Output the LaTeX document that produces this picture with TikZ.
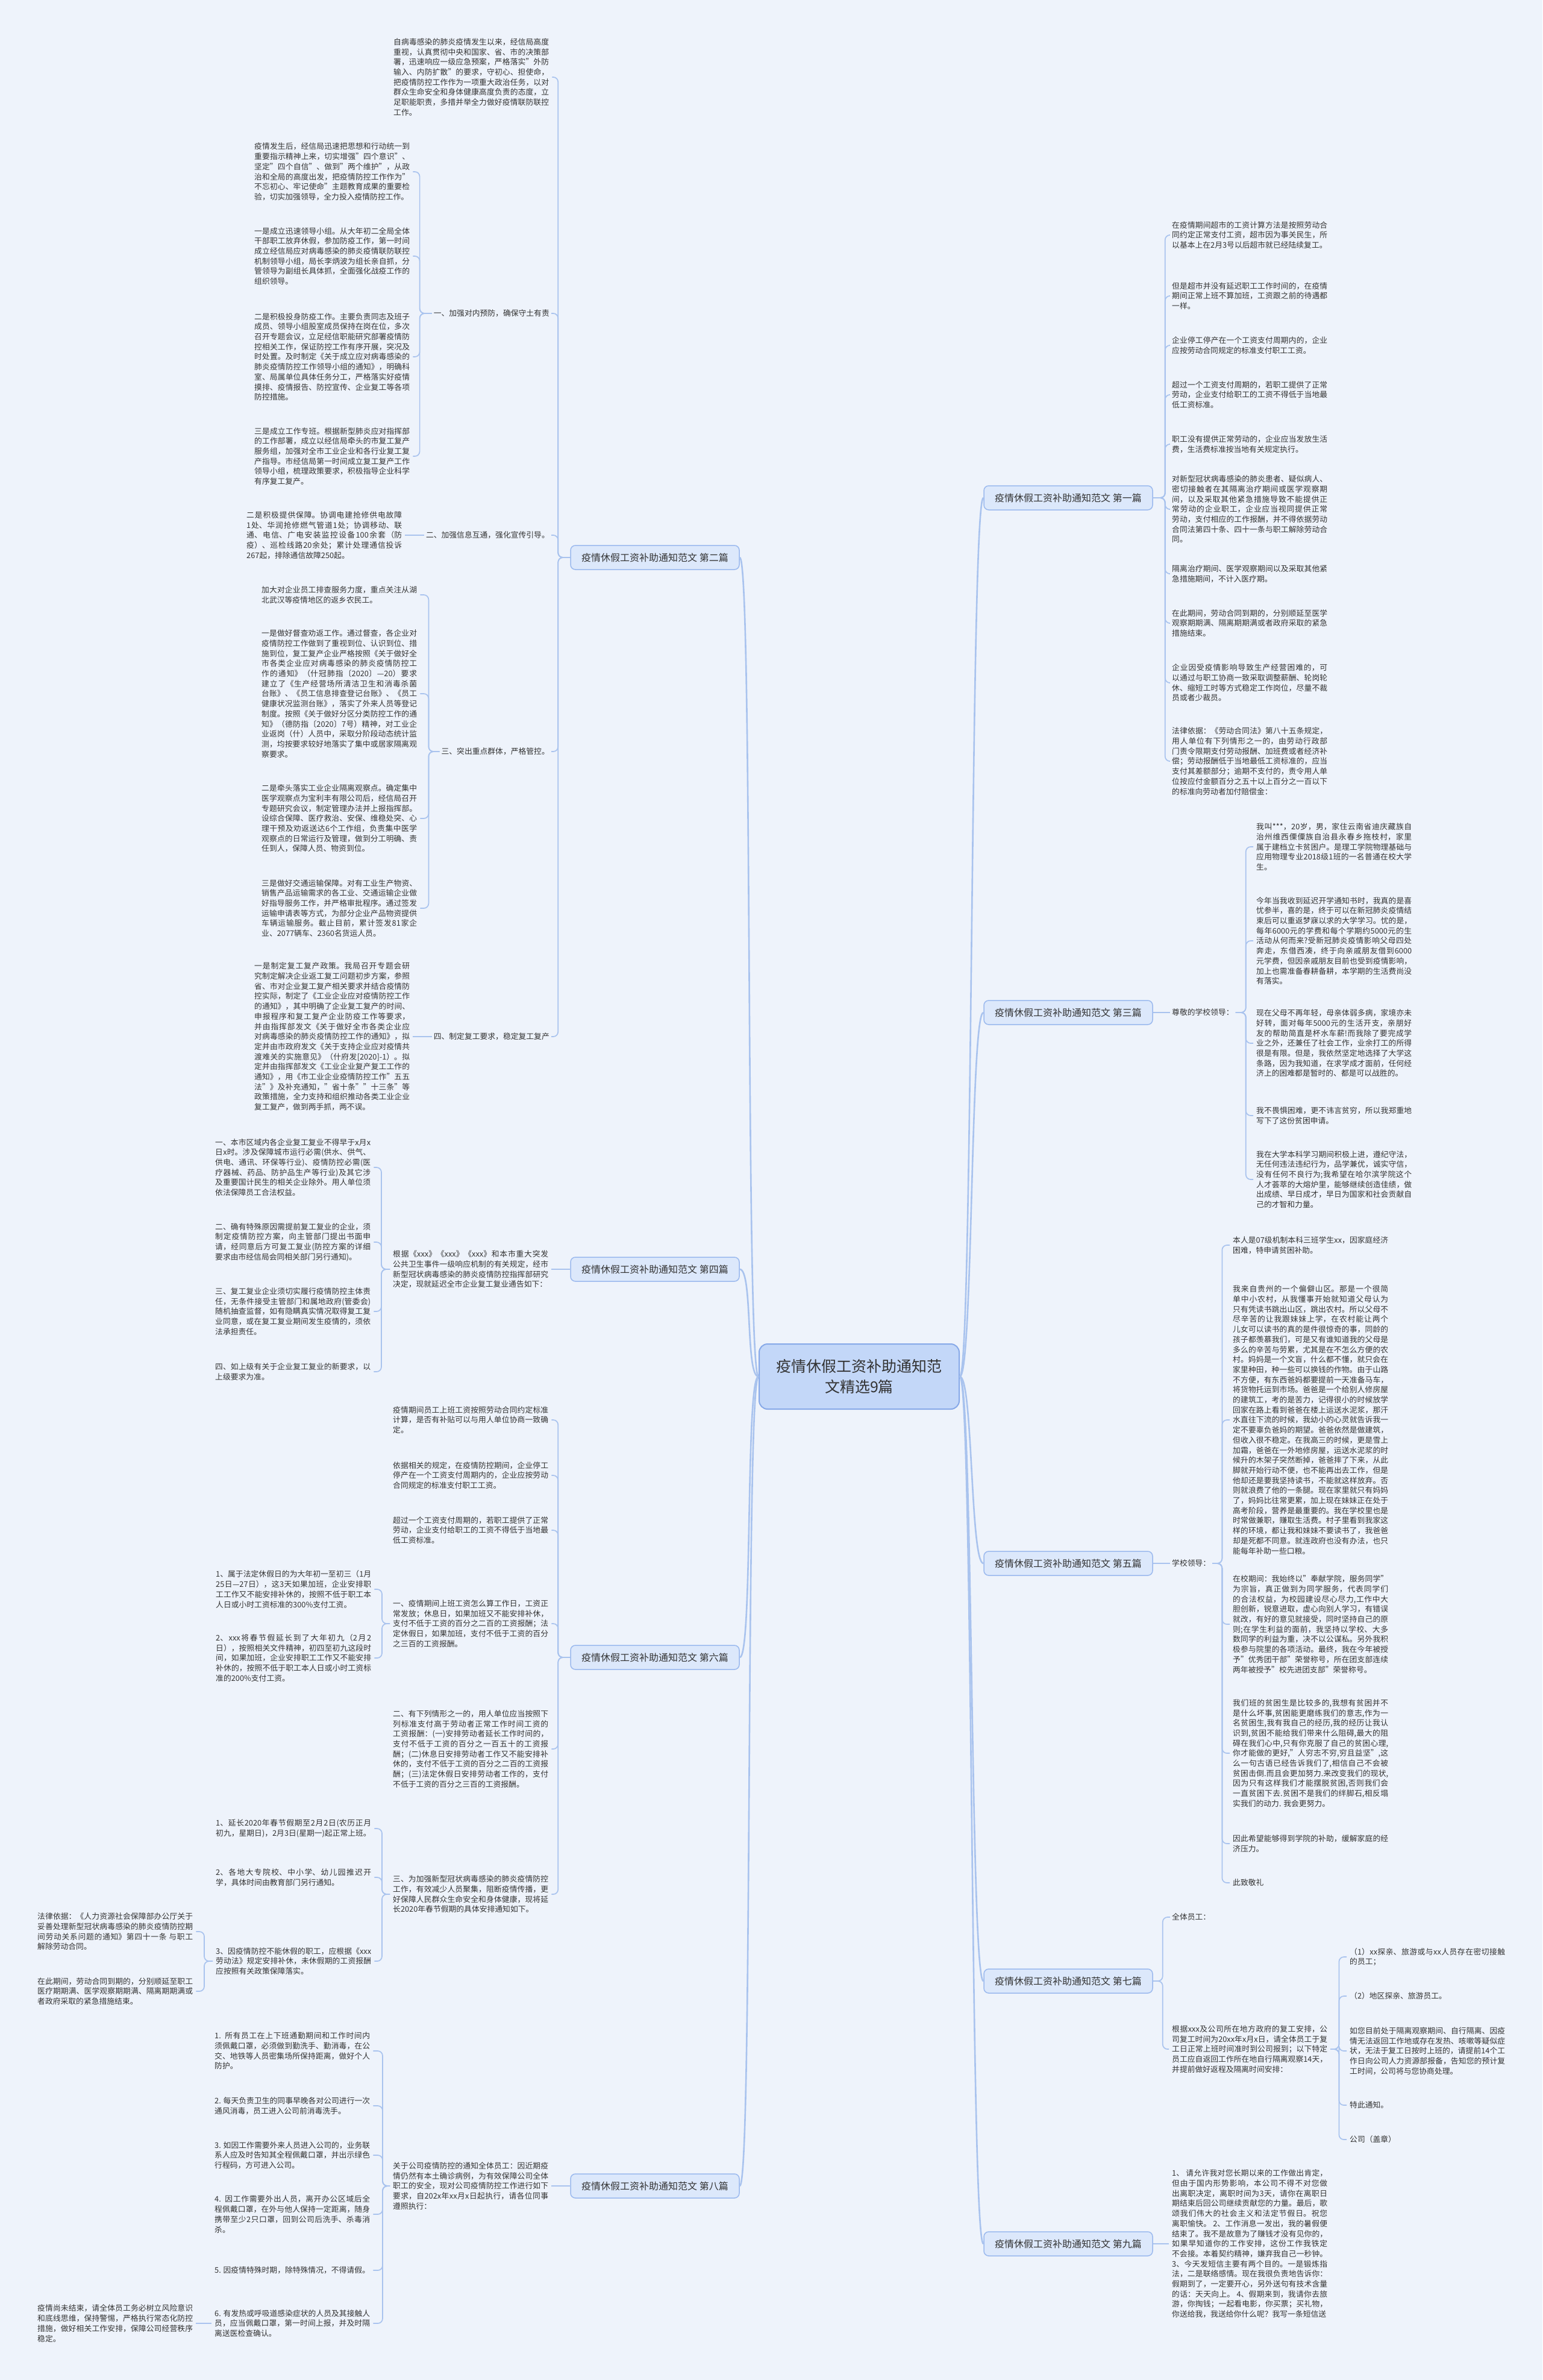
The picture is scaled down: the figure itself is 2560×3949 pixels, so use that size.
\documentclass[tikz,border=0pt]{standalone}
\usepackage{fontspec}
\setmainfont{Noto Sans CJK SC}
\XeTeXlinebreaklocale "zh"
\XeTeXlinebreakskip=0pt plus 1pt
\definecolor{bgc}{HTML}{EEF3FB}
\definecolor{lnc}{HTML}{A9C3EE}
\definecolor{txc}{HTML}{333333}
\definecolor{brfill}{HTML}{DCE8FB}
\definecolor{brdraw}{HTML}{9BB9EE}
\definecolor{rtfill}{HTML}{C3D7F8}
\definecolor{rtdraw}{HTML}{87A9E8}
\newcommand\bfs{\fontsize{12.8pt}{16.7pt}\selectfont}
\newcommand\lcon[3]{\draw[conn] (#1.west) -- ++(-#3,0) |- (#2.east);}
\newcommand\rcon[3]{\draw[conn] (#1.east) -- ++(#3,0) |- (#2.west);}
\tikzset{
  tb/.style={anchor=west, text width=258pt, align=justify, inner xsep=5pt, inner ysep=1pt, font=\bfs, text=txc},
  lbl/.style={inner xsep=3pt, inner ysep=1pt, font=\bfs, text=txc},
  lbll/.style={lbl, anchor=east},
  lblr/.style={lbl, anchor=west},
  branch/.style={draw=brdraw, fill=brfill, rounded corners=8pt, line width=1.5pt, minimum width=280pt, minimum height=40pt, font=\fontsize{16pt}{20pt}\selectfont, text=txc, inner sep=0pt},
  rootn/.style={draw=rtdraw, fill=rtfill, rounded corners=14pt, line width=2pt, minimum width=332pt, minimum height=108pt, align=center, font=\fontsize{25pt}{34pt}\selectfont, text=txc},
  conn/.style={draw=lnc, line width=1.7pt, rounded corners=8pt},
  mconn/.style={draw=lnc, line width=2.6pt}
}
\begin{document}
\begin{tikzpicture}[x=1pt,y=-1pt]
\fill[bgc] (0,0) rectangle (2560,3949);
\useasboundingbox (0,0) rectangle (2560,3949);

% ---------------- root and branches
\node[rootn] (root) at (1426,2284) {疫情休假工资补助通知范\\文精选9篇};
\node[branch] (B1) at (1773,826) {疫情休假工资补助通知范文 第一篇};
\node[branch] (B2) at (1087,925) {疫情休假工资补助通知范文 第二篇};
\node[branch] (B3) at (1773,1680) {疫情休假工资补助通知范文 第三篇};
\node[branch] (B4) at (1087,2106) {疫情休假工资补助通知范文 第四篇};
\node[branch] (B5) at (1773,2594) {疫情休假工资补助通知范文 第五篇};
\node[branch] (B6) at (1087,2750) {疫情休假工资补助通知范文 第六篇};
\node[branch] (B7) at (1773,3287) {疫情休假工资补助通知范文 第七篇};
\node[branch] (B8) at (1087,3627) {疫情休假工资补助通知范文 第八篇};
\node[branch] (B9) at (1773,3723) {疫情休假工资补助通知范文 第九篇};
\foreach \b in {B2,B4,B6,B8}{\draw[mconn] (root.west) .. controls +(-22,0) and +(22,0) .. (\b.east);}
\foreach \b in {B1,B3,B5,B7,B9}{\draw[mconn] (root.east) .. controls +(22,0) and +(-22,0) .. (\b.west);}

% ---------------- 第二篇
\node[tb] (c2a) at (648,128) {自病毒感染的肺炎疫情发生以来，经信局高度重视，认真贯彻中央和国家、省、市的决策部署，迅速响应一级应急预案，严格落实"外防输入、内防扩散"的要求，守初心、担使命，把疫情防控工作作为一项重大政治任务，以对群众生命安全和身体健康高度负责的态度，立足职能职责，多措并举全力做好疫情联防联控工作。};
\node[lbll] (c2b) at (915,520) {一、加强对内预防，确保守土有责};
\node[lbll] (c2c) at (915,888) {二、加强信息互通，强化宣传引导。};
\node[lbll] (c2d) at (915,1247) {三、突出重点群体，严格管控。};
\node[lbll] (c2e) at (915,1720) {四、制定复工要求，稳定复工复产};
\node[tb] (g1) at (417,285) {疫情发生后，经信局迅速把思想和行动统一到重要指示精神上来，切实增强"四个意识"、坚定"四个自信"、做到"两个维护"，从政治和全局的高度出发，把疫情防控工作作为"不忘初心、牢记使命"主题教育成果的重要检验，切实加强领导，全力投入疫情防控工作。};
\node[tb] (g2) at (417,425) {一是成立迅速领导小组。从大年初二全局全体干部职工放弃休假，参加防疫工作，第一时间成立经信局应对病毒感染的肺炎疫情联防联控机制领导小组，局长李炳波为组长亲自抓，分管领导为副组长具体抓，全面强化战疫工作的组织领导。};
\node[tb] (g3) at (417,592) {二是积极投身防疫工作。主要负责同志及班子成员、领导小组股室成员保持在岗在位，多次召开专题会议，立足经信职能研究部署疫情防控相关工作，保证防控工作有序开展，突况及时处置。及时制定《关于成立应对病毒感染的肺炎疫情防控工作领导小组的通知》，明确科室、局属单位具体任务分工，严格落实好疫情摸排、疫情报告、防控宣传、企业复工等各项防控措施。};
\node[tb] (g4) at (417,757) {三是成立工作专班。根据新型肺炎应对指挥部的工作部署，成立以经信局牵头的市复工复产服务组，加强对全市工业企业和各行业复工复产指导。市经信局第一时间成立复工复产工作领导小组，梳理政策要求，积极指导企业科学有序复工复产。};
\node[tb] (g5) at (404,888) {二是积极提供保障。协调电建抢修供电故障1处、华润抢修燃气管道1处；协调移动、联通、电信、广电安装监控设备100余套（防疫）、巡检线路20余处；累计处理通信投诉267起，排除通信故障250起。};
\node[tb] (h1) at (429,987) {加大对企业员工排查服务力度，重点关注从湖北武汉等疫情地区的返乡农民工。};
\node[tb] (h2) at (429,1151) {一是做好督查劝返工作。通过督查，各企业对疫情防控工作做到了重视到位、认识到位、措施到位，复工复产企业严格按照《关于做好全市各类企业应对病毒感染的肺炎疫情防控工作的通知》（什冠肺指〔2020〕—20）要求建立了《生产经营场所清洁卫生和消毒杀菌台账》、《员工信息排查登记台账》、《员工健康状况监测台账》，落实了外来人员等登记制度。按照《关于做好分区分类防控工作的通知》（德防指〔2020〕7号）精神，对工业企业返岗（什）人员中，采取分阶段动态统计监测，均按要求较好地落实了集中或居家隔离观察要求。};
\node[tb] (h3) at (429,1358) {二是牵头落实工业企业隔离观察点。确定集中医学观察点为宝利丰有限公司后，经信局召开专题研究会议，制定管理办法并上报指挥部。设综合保障、医疗救治、安保、维稳处突、心理干预及劝返送达6个工作组，负责集中医学观察点的日常运行及管理，做到分工明确、责任到人，保障人员、物资到位。};
\node[tb] (h4) at (429,1507) {三是做好交通运输保障。对有工业生产物资、销售产品运输需求的各工业、交通运输企业做好指导服务工作，并严格审批程序。通过签发运输申请表等方式，为部分企业产品物资提供车辆运输服务。截止目前，累计签发81家企业、2077辆车、2360名货运人员。};
\node[tb] (g6) at (417,1720) {一是制定复工复产政策。我局召开专题会研究制定解决企业返工复工问题初步方案，参照省、市对企业复工复产相关要求并结合疫情防控实际，制定了《工业企业应对疫情防控工作的通知》，其中明确了企业复工复产的时间、申报程序和复工复产企业防疫工作等要求，并由指挥部发文《关于做好全市各类企业应对病毒感染的肺炎疫情防控工作的通知》，拟定并由市政府发文《关于支持企业应对疫情共渡难关的实施意见》（什府发[2020]-1）。拟定并由指挥部发文《工业企业复产复工工作的通知》，用《市工业企业疫情防控工作"五五法"》及补充通知，"省十条""十三条"等政策措施，全力支持和组织推动各类工业企业复工复产，做到两手抓，两不误。};
\foreach \c in {c2a,c2b,c2c,c2d,c2e}{\lcon{B2}{\c}{20}}
\foreach \c in {g1,g2,g3,g4}{\lcon{c2b}{\c}{20}}
\draw[conn] (c2c.west) -- (g5.east);
\foreach \c in {h1,h2,h3,h4}{\lcon{c2d}{\c}{18}}
\draw[conn] (c2e.west) -- (g6.east);

% ---------------- 第四篇
\node[tb] (c4) at (647,2106) {根据《xxx》《xxx》《xxx》和本市重大突发公共卫生事件一级响应机制的有关规定，经市新型冠状病毒感染的肺炎疫情防控指挥部研究决定，现就延迟全市企业复工复业通告如下：};
\node[tb] (d1) at (352,1937) {一、本市区域内各企业复工复业不得早于x月x日x时。涉及保障城市运行必需(供水、供气、供电、通讯、环保等行业)、疫情防控必需(医疗器械、药品、防护品生产等行业)及其它涉及重要国计民生的相关企业除外。用人单位须依法保障员工合法权益。};
\node[tb] (d2) at (352,2061) {二、确有特殊原因需提前复工复业的企业，须制定疫情防控方案，向主管部门提出书面申请，经同意后方可复工复业(防控方案的详细要求由市经信局会同相关部门另行通知)。};
\node[tb] (d3) at (352,2176) {三、复工复业企业须切实履行疫情防控主体责任，无条件接受主管部门和属地政府(管委会)随机抽查监督，如有隐瞒真实情况取得复工复业同意，或在复工复业期间发生疫情的，须依法承担责任。};
\node[tb] (d4) at (352,2276) {四、如上级有关于企业复工复业的新要求，以上级要求为准。};
\draw[conn] (B4.west) -- (c4.east);
\foreach \c in {d1,d2,d3,d4}{\lcon{c4}{\c}{14}}

% ---------------- 第六篇
\node[tb] (e1) at (647,2356) {疫情期间员工上班工资按照劳动合同约定标准计算，是否有补贴可以与用人单位协商一致确定。};
\node[tb] (e2) at (647,2448) {依据相关的规定，在疫情防控期间，企业停工停产在一个工资支付周期内的，企业应按劳动合同规定的标准支付职工工资。};
\node[tb] (e3) at (647,2539) {超过一个工资支付周期的，若职工提供了正常劳动，企业支付给职工的工资不得低于当地最低工资标准。};
\node[tb] (e4) at (647,2694) {一、疫情期间上班工资怎么算工作日，工资正常发放；休息日，如果加班又不能安排补休，支付不低于工资的百分之二百的工资报酬；法定休假日，如果加班，支付不低于工资的百分之三百的工资报酬。};
\node[tb] (e5) at (647,2902) {二、有下列情形之一的，用人单位应当按照下列标准支付高于劳动者正常工作时间工资的工资报酬：(一)安排劳动者延长工作时间的，支付不低于工资的百分之一百五十的工资报酬；(二)休息日安排劳动者工作又不能安排补休的，支付不低于工资的百分之二百的工资报酬；(三)法定休假日安排劳动者工作的，支付不低于工资的百分之三百的工资报酬。};
\node[tb] (e6) at (647,3143) {三、为加强新型冠状病毒感染的肺炎疫情防控工作，有效减少人员聚集，阻断疫情传播，更好保障人民群众生命安全和身体健康，现将延长2020年春节假期的具体安排通知如下。};
\node[tb] (f1) at (353,2637) {1、属于法定休假日的为大年初一至初三（1月25日—27日），这3天如果加班，企业安排职工工作又不能安排补休的，按照不低于职工本人日或小时工资标准的300\%支付工资。};
\node[tb] (f2) at (353,2751) {2、xxx将春节假延长到了大年初九（2月2日），按照相关文件精神，初四至初九这段时间，如果加班，企业安排职工工作又不能安排补休的，按照不低于职工本人日或小时工资标准的200\%支付工资。};
\node[tb] (f3) at (353,3034) {1、延长2020年春节假期至2月2日(农历正月初九，星期日)，2月3日(星期一)起正常上班。};
\node[tb] (f4) at (353,3115) {2、各地大专院校、中小学、幼儿园推迟开学，具体时间由教育部门另行通知。};
\node[tb] (f5) at (353,3254) {3、因疫情防控不能休假的职工，应根据《xxx劳动法》规定安排补休，未休假期的工资报酬应按照有关政策保障落实。};
\node[tb] (k1) at (57,3205) {法律依据：《人力资源社会保障部办公厅关于妥善处理新型冠状病毒感染的肺炎疫情防控期间劳动关系问题的通知》第四十一条 与职工解除劳动合同。};
\node[tb] (k2) at (57,3304) {在此期间，劳动合同到期的，分别顺延至职工医疗期期满、医学观察期期满、隔离期期满或者政府采取的紧急措施结束。};
\foreach \c in {e1,e2,e3,e4,e5,e6}{\lcon{B6}{\c}{20}}
\foreach \c in {f1,f2}{\lcon{e4}{\c}{13}}
\foreach \c in {f3,f4,f5}{\lcon{e6}{\c}{13}}
\foreach \c in {k1,k2}{\lcon{f5}{\c}{14}}

% ---------------- 第八篇
\node[tb] (l8) at (647,3627) {关于公司疫情防控的通知全体员工：因近期疫情仍然有本土确诊病例，为有效保障公司全体职工的安全，现对公司疫情防控工作进行如下要求，自202x年xx月x日起执行，请各位同事遵照执行：};
\node[tb] (m1) at (351,3403) {1. 所有员工在上下班通勤期间和工作时间内须佩戴口罩，必须做到勤洗手、勤消毒，在公交、地铁等人员密集场所保持距离，做好个人防护。};
\node[tb] (m2) at (351,3494) {2. 每天负责卫生的同事早晚各对公司进行一次通风消毒，员工进入公司前消毒洗手。};
\node[tb] (m3) at (351,3576) {3. 如因工作需要外来人员进入公司的，业务联系人应及时告知其全程佩戴口罩，并出示绿色行程码，方可进入公司。};
\node[tb] (m4) at (351,3674) {4. 因工作需要外出人员，离开办公区域后全程佩戴口罩，在外与他人保持一定距离，随身携带至少2只口罩，回到公司后洗手、杀毒消杀。};
\node[tb] (m5) at (351,3767) {5. 因疫情特殊时期，除特殊情况，不得请假。};
\node[tb] (m6) at (351,3855) {6. 有发热或呼吸道感染症状的人员及其接触人员，应当佩戴口罩，第一时间上报，并及时隔离送医检查确认。};
\node[tb] (n8) at (57,3855) {疫情尚未结束，请全体员工务必树立风险意识和底线思维，保持警惕，严格执行常态化防控措施，做好相关工作安排，保障公司经营秩序稳定。};
\draw[conn] (B8.west) -- (l8.east);
\foreach \c in {m1,m2,m3,m4,m5,m6}{\lcon{l8}{\c}{12}}
\draw[conn] (m6.west) -- (n8.east);

% ---------------- 第一篇
\node[tb] (a1) at (1940,390) {在疫情期间超市的工资计算方法是按照劳动合同约定正常支付工资，超市因为事关民生，所以基本上在2月3号以后超市就已经陆续复工。};
\node[tb] (a2) at (1940,491) {但是超市并没有延迟职工工作时间的，在疫情期间正常上班不算加班，工资跟之前的待遇都一样。};
\node[tb] (a3) at (1940,573) {企业停工停产在一个工资支付周期内的，企业应按劳动合同规定的标准支付职工工资。};
\node[tb] (a4) at (1940,655) {超过一个工资支付周期的，若职工提供了正常劳动，企业支付给职工的工资不得低于当地最低工资标准。};
\node[tb] (a5) at (1940,737) {职工没有提供正常劳动的，企业应当发放生活费，生活费标准按当地有关规定执行。};
\node[tb] (a6) at (1940,845) {对新型冠状病毒感染的肺炎患者、疑似病人、密切接触者在其隔离治疗期间或医学观察期间，以及采取其他紧急措施导致不能提供正常劳动的企业职工，企业应当视同提供正常劳动，支付相应的工作报酬，并不得依据劳动合同法第四十条、四十一条与职工解除劳动合同。};
\node[tb] (a7) at (1940,952) {隔离治疗期间、医学观察期间以及采取其他紧急措施期间，不计入医疗期。};
\node[tb] (a8) at (1940,1034) {在此期间，劳动合同到期的，分别顺延至医学观察期期满、隔离期期满或者政府采取的紧急措施结束。};
\node[tb] (a9) at (1940,1133) {企业因受疫情影响导致生产经营困难的，可以通过与职工协商一致采取调整薪酬、轮岗轮休、缩短工时等方式稳定工作岗位，尽量不裁员或者少裁员。};
\node[tb] (a10) at (1940,1263) {法律依据：《劳动合同法》第八十五条规定，用人单位有下列情形之一的，由劳动行政部门责令限期支付劳动报酬、加班费或者经济补偿；劳动报酬低于当地最低工资标准的，应当支付其差额部分；逾期不支付的，责令用人单位按应付金额百分之五十以上百分之一百以下的标准向劳动者加付赔偿金：};
\foreach \c in {a1,a2,a3,a4,a5,a6,a7,a8,a9,a10}{\rcon{B1}{\c}{20}}

% ---------------- 第三篇
\node[lblr] (q3) at (1942,1680) {尊敬的学校领导：};
\node[tb] (p1) at (2080,1405) {我叫***，20岁，男，家住云南省迪庆藏族自治州维西傈僳族自治县永春乡拖枝村，家里属于建档立卡贫困户。是理工学院物理基础与应用物理专业2018级1班的一名普通在校大学生。};
\node[tb] (p2) at (2080,1561) {今年当我收到延迟开学通知书时，我真的是喜忧参半，喜的是，终于可以在新冠肺炎疫情结束后可以重返梦寐以求的大学学习。忧的是，每年6000元的学费和每个学期约5000元的生活动从何而来?受新冠肺炎疫情影响父母四处奔走，东借西凑，终于向亲戚朋友借到6000元学费，但因亲戚朋友目前也受到疫情影响，加上也需准备春耕备耕，本学期的生活费尚没有落实。};
\node[tb] (p3) at (2080,1731) {现在父母不再年轻，母亲体弱多病，家境亦未好转，面对每年5000元的生活开支，亲朋好友的帮助简直是杯水车薪!而我除了要完成学业之外，还兼任了社会工作，业余打工的所得很是有限。但是，我依然坚定地选择了大学这条路，因为我知道，在求学成才面前，任何经济上的困难都是暂时的、都是可以战胜的。};
\node[tb] (p4) at (2080,1851) {我不畏惧困难，更不讳言贫穷，所以我郑重地写下了这份贫困申请。};
\node[tb] (p5) at (2080,1957) {我在大学本科学习期间积极上进，遵纪守法，无任何违法违纪行为，品学兼优，诚实守信，没有任何不良行为;我希望在哈尔滨学院这个人才荟萃的大熔炉里，能够继续创造佳绩，做出成绩、早日成才，早日为国家和社会贡献自己的才智和力量。};
\draw[conn] (B3.east) -- (q3.west);
\foreach \c in {p1,p2,p3,p4,p5}{\rcon{q3}{\c}{17}}

% ---------------- 第五篇
\node[lblr] (r5) at (1942,2594) {学校领导：};
\node[tb] (s1) at (2041,2066) {本人是07级机制本科三班学生xx，因家庭经济困难，特申请贫困补助。};
\node[tb] (s2) at (2041,2356) {我来自贵州的一个偏僻山区。那是一个很简单中小农村，从我懂事开始就知道父母认为只有凭读书跳出山区，跳出农村。所以父母不尽辛苦的让我跟妹妹上学，在农村能让两个儿女可以读书的真的是件很惊奇的事，同龄的孩子都羡慕我们，可是又有谁知道我的父母是多么的辛苦与劳累，尤其是在不怎么方便的农村。妈妈是一个文盲，什么都不懂，就只会在家里种田，种一些可以换钱的作物。由于山路不方便，有东西爸妈都要提前一天准备马车，将货物托运到市场。爸爸是一个给别人修房屋的建筑工，考的是苦力，记得很小的时候放学回家在路上看到爸爸在楼上运送水泥浆，那汗水直往下流的时候，我幼小的心灵就告诉我一定不要辜负爸妈的期望。爸爸依然是做建筑，但收入很不稳定。在我高三的时候，更是雪上加霜，爸爸在一外地修房屋，运送水泥浆的时候升的木架子突然断掉，爸爸摔了下来，从此脚就开始行动不便，也不能再出去工作，但是他却还是要我坚持读书，不能就这样放弃。否则就浪费了他的一条腿。现在家里就只有妈妈了，妈妈比往常更累，加上现在妹妹正在处于高考阶段，营养是最重要的。我在学校里也是时常做兼职，赚取生活费。村子里看到我家这样的环境，都让我和妹妹不要读书了，我爸爸却是死都不同意。就连政府也没有办法，也只能每年补助一些口粮。};
\node[tb] (s3) at (2041,2695) {在校期间：我始终以"奉献学院，服务同学"为宗旨，真正做到为同学服务，代表同学们的合法权益，为校园建设尽心尽力,工作中大胆创新，锐意进取，虚心向别人学习，有错误就改，有好的意见就接受，同时坚持自己的原则;在学生利益的面前，我坚持以学校、大多数同学的利益为重，决不以公谋私。另外我积极参与院里的各项活动。最终，我在今年被授予"优秀团干部"荣誉称号，所在团支部连续两年被授予"校先进团支部"荣誉称号。};
\node[tb] (s4) at (2041,2909) {我们班的贫困生是比较多的,我想有贫困并不是什么坏事,贫困能更磨练我们的意志,作为一名贫困生,我有我自己的经历,我的经历让我认识到,贫困不能给我们带来什么阻碍,最大的阻碍在我们心中,只有你克服了自己的贫困心理,你才能做的更好,"人穷志不穷,穷且益坚",这么一句古语已经告诉我们了,相信自己不会被贫困击倒.而且会更加努力.来改变我们的现状,因为只有这样我们才能摆脱贫困,否则我们会一直贫困下去.贫困不是我们的绊脚石,相反塌实我们的动力. 我会更努力。};
\node[tb] (s5) at (2041,3059) {因此希望能够得到学院的补助，缓解家庭的经济压力。};
\node[tb] (s6) at (2041,3124) {此致敬礼};
\draw[conn] (B5.east) -- (r5.west);
\foreach \c in {s1,s2,s3,s4,s5,s6}{\rcon{r5}{\c}{16}}

% ---------------- 第七篇
\node[lblr] (t1) at (1942,3181) {全体员工：};
\node[tb] (t2) at (1940,3400) {根据xxx及公司所在地方政府的复工安排，公司复工时间为20xx年x月x日，请全体员工于复工日正常上班时间准时到公司报到；以下特定员工应自返回工作所在地自行隔离观察14天，并提前做好返程及隔离时间安排：};
\node[tb] (u1) at (2235,3247) {（1）xx探亲、旅游或与xx人员存在密切接触的员工；};
\node[tb] (u2) at (2235,3312) {（2）地区探亲、旅游员工。};
\node[tb] (u3) at (2235,3403) {如您目前处于隔离观察期间、自行隔离、因疫情无法返回工作地或存在发热、咳嗽等疑似症状，无法于复工日按时上班的，请提前14个工作日向公司人力资源部报备，告知您的预计复工时间，公司将与您协商处理。};
\node[tb] (u4) at (2235,3493) {特此通知。};
\node[tb] (u5) at (2235,3550) {公司（盖章）};
\foreach \c in {t1,t2}{\rcon{B7}{\c}{16}}
\foreach \c in {u1,u2,u3,u4,u5}{\rcon{t2}{\c}{14}}

% ---------------- 第九篇
\node[tb] (v9) at (1940,3723) {1、 请允许我对您长期以来的工作做出肯定，但由于国内形势影响，本公司不得不对您做出离职决定，离职时间为3天，请你在离职日期结束后回公司继续贡献您的力量。最后，歌颂我们伟大的社会主义和法定节假日。祝您离职愉快。 2、工作消息一发出，我的暑假便结束了。我不是故意为了赚钱才没有见你的，如果早知道你的工作安排，这份工作我铁定不会接。本着契约精神，嫌弃我自己一秒钟。 3、今天发短信主要有两个目的。一是锻炼指法，二是联络感情。现在我很负责地告诉你：假期到了，一定要开心，另外送句有技术含量的话：天天向上。 4、假期来到，我请你去旅游，你掏钱；一起看电影，你买票；买礼物，你送给我，我送给你什么呢？我写一条短信送};
\draw[conn] (B9.east) -- (v9.west);
\end{tikzpicture}
\end{document}
